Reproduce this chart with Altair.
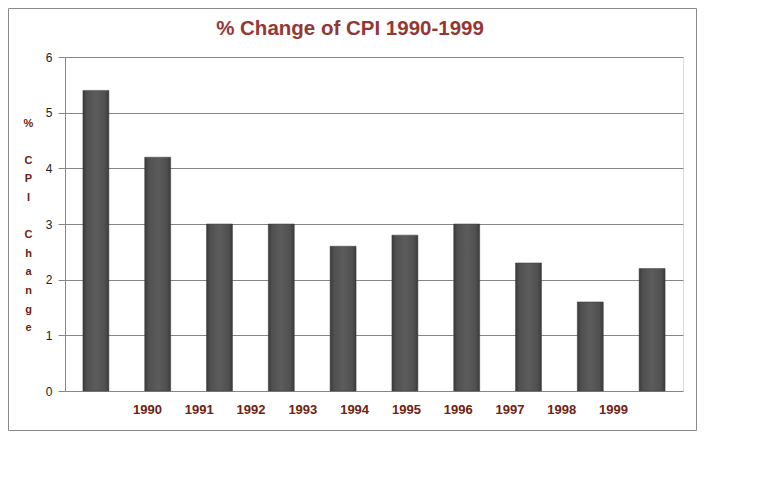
import altair as alt
import pandas as pd

years = ["1990", "1991", "1992", "1993", "1994", "1995", "1996", "1997", "1998", "1999"]
values = [5.4, 4.2, 3.0, 3.0, 2.6, 2.8, 3.0, 2.3, 1.6, 2.2]
y_ticks = [0, 1, 2, 3, 4, 5, 6]
title_text = "% Change of CPI 1990-1999"
y_title = ["%", "\u200b", "C", "P", "I", "\u200b", "C", "h", "a", "n", "g", "e"]

df = pd.DataFrame({"year": years, "value": values})

W, H = 618, 334
MAROON = "#6e2212"
GRID = "#868686"
FONT = "Liberation Sans"

bar_fill = alt.Gradient(
    gradient="linear",
    stops=[
        alt.GradientStop(color="#3a3a3a", offset=0),
        alt.GradientStop(color="#505050", offset=0.15),
        alt.GradientStop(color="#5c5c5c", offset=0.5),
        alt.GradientStop(color="#505050", offset=0.85),
        alt.GradientStop(color="#3a3a3a", offset=1),
    ],
    x1=0, x2=1, y1=0, y2=0,
)

bars = alt.Chart(df).mark_bar(color=bar_fill, stroke="#3a3a3a", strokeWidth=0.5).encode(
    x=alt.X("year:N", sort=years,
            scale=alt.Scale(paddingInner=0.58, paddingOuter=0.29), axis=None),
    y=alt.Y("value:Q", scale=alt.Scale(domain=[0, 6], nice=False),
            axis=alt.Axis(values=y_ticks, grid=True, gridColor=GRID, gridWidth=1,
                          domainColor=GRID, tickColor=GRID, tickSize=7,
                          labelPadding=6, labelFont=FONT, labelFontSize=12,
                          labelColor="#222222",
                          title=y_title, titleAngle=0, titleX=-37, titleY=60,
                          titleBaseline="top", titleAlign="center",
                          titleLineHeight=18.6, titleFont=FONT, titleFontSize=11,
                          titleFontWeight="bold", titleColor=MAROON)),
)

labels = alt.Chart(df).mark_point(opacity=0).encode(
    x=alt.X("year:O", sort=years,
            scale=alt.Scale(type="point", range=[82, 548], padding=0),
            axis=alt.Axis(orient="bottom", domain=False, ticks=False, grid=False,
                          labelAngle=0, labelFont=FONT, labelFontSize=13,
                          labelFontWeight="bold", labelColor=MAROON,
                          labelPadding=12, title=None)),
)

frame = alt.Chart(pd.DataFrame({"a": [0]})).mark_rect(
    fill="transparent", stroke="#8a8a8a", strokeWidth=1
).encode(
    x=alt.value(-56.5), x2=alt.value(631.5),
    y=alt.value(-48.5), y2=alt.value(373.5),
)

chart = alt.layer(frame, bars, labels).resolve_scale(x="independent").properties(
    width=W, height=H,
    autosize=alt.AutoSizeParams(type="none"),
    padding={"left": 57, "top": 49, "right": 14, "bottom": 40},
    title=alt.Title(title_text, font=FONT, fontSize=20.5, fontWeight="bold",
                    color="#953735", anchor="middle", frame="group", dx=-24,
                    offset=-31),
).configure_view(stroke=None).configure(background="white")

chart.save("out.html", embed_options={"renderer": "svg", "actions": False})
